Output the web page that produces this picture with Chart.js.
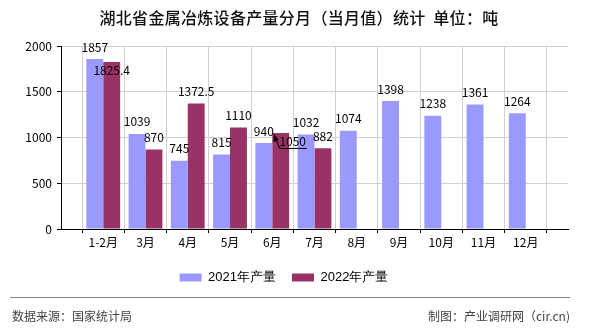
<!DOCTYPE html>
<html>
<head>
<meta charset="utf-8">
<script src="https://cdn.jsdelivr.net/npm/chart.js@4"></script>
<style>
  body { margin: 0; background: #fff; }
  #wrap { position: relative; width: 590px; height: 330px; font-family: "Noto Sans CJK SC", sans-serif; }
  #title { position: absolute; top: 6px; left: 4px; width: 590px; text-align: center; font-size: 16px; font-weight: 500; letter-spacing: 0.3px; color: #111; line-height: 22px; }
  #rule { position: absolute; left: 10px; top: 297px; width: 560px; border-top: 1px solid #888; }
  .foot { position: absolute; top: 307px; font-size: 12px; color: #444; line-height: 18px; }
</style>
</head>
<body>
<div id="wrap">
  <canvas id="graph" width="590" height="330"></canvas>
  <div id="title">湖北省金属冶炼设备产量分月（当月值）统计&nbsp;&nbsp;单位：吨</div>
  <div id="rule"></div>
  <div class="foot" style="left:12px">数据来源：国家统计局</div>
  <div class="foot" style="right:20px">制图：产业调研网（cir.cn)</div>
</div>
<script>
// data
const months = ['1-2月', '3月', '4月', '5月', '6月', '7月', '8月', '9月', '10月', '11月', '12月'];
const output2021 = [1857, 1039, 745, 815, 940, 1032, 1074, 1398, 1238, 1361, 1264];
const output2022 = [1825.4, 870, 1372.5, 1110, 1050, 882, null, null, null, null, null];
const yTicks = [0, 500, 1000, 1500, 2000];

// empty slot on each side of the months
const labels = [''].concat(months, ['']);
function pad(arr) { return [null].concat(arr, [null]); }

const numFont = '12px "Noto Sans CJK SC", sans-serif';

// value labels on top of the bars
const barLabels = {
  id: 'barLabels',
  afterDatasetsDraw(chart) {
    const ctx = chart.ctx;
    ctx.save();
    ctx.font = numFont;
    ctx.fillStyle = '#000';
    ctx.textAlign = 'center';
    ctx.textBaseline = 'middle';
    chart.data.datasets.forEach((ds, di) => {
      chart.getDatasetMeta(di).data.forEach((bar, i) => {
        const v = ds.data[i];
        if (v === null || v === undefined) return;
        const txt = String(v);
        if (di === 1 && i === 1) {
          // pushed down, overlaps blue label otherwise
          ctx.fillText(txt, bar.x, bar.y + 8);
        } else if (di === 1 && i === 5) {
          // moved label with leader line
          const tx = bar.x + 12, ty = bar.y + 9;
          ctx.fillText(txt, tx, ty);
          ctx.strokeStyle = '#000';
          ctx.lineWidth = 1;
          ctx.beginPath();
          ctx.moveTo(bar.x - 6, bar.y + 3);
          ctx.lineTo(bar.x - 1, bar.y + 15.5);
          ctx.lineTo(tx + 14, bar.y + 15.5);
          ctx.stroke();
          ctx.beginPath();
          ctx.moveTo(bar.x - 7, bar.y + 1);
          ctx.lineTo(bar.x - 7, bar.y + 9);
          ctx.lineTo(bar.x - 2, bar.y + 7);
          ctx.closePath();
          ctx.fillStyle = '#000';
          ctx.fill();
        } else {
          ctx.fillText(txt, bar.x, bar.y - 12);
        }
      });
    });
    ctx.restore();
  }
};

const chart = new Chart(document.getElementById('graph'), {
  type: 'bar',
  data: {
    labels: labels,
    datasets: [{
      label: '2021年产量',
      data: pad(output2021),
      backgroundColor: '#9999ff',
      categoryPercentage: 0.8,
      barPercentage: 1.0
    }, {
      label: '2022年产量',
      data: pad(output2022),
      backgroundColor: '#993366',
      categoryPercentage: 0.8,
      barPercentage: 1.0
    }]
  },
  options: {
    responsive: false,
    animation: false,
    layout: { padding: { left: 0, right: 22, top: 46, bottom: 36 } },
    plugins: {
      legend: {
        position: 'bottom',
        labels: {
          boxWidth: 22, boxHeight: 8, padding: 16,
          color: '#000',
          font: { family: 'Liberation Sans', size: 13 }
        }
      },
      tooltip: { enabled: false }
    },
    scales: {
      x: {
        offset: false,
        grid: { color: '#d0d0d0', tickColor: '#000', tickLength: 4 },
        border: { color: '#000' },
        ticks: { color: '#000', font: { family: 'Noto Sans CJK SC', size: 12 }, padding: 2, maxRotation: 0, autoSkip: false },
        afterFit(scale) { scale.height = 26; }
      },
      y: {
        min: 0, max: 2000,
        afterBuildTicks(scale) { scale.ticks = yTicks.map(v => ({ value: v })); },
        grid: { color: '#d0d0d0', tickColor: '#000', tickLength: 4 },
        border: { color: '#000' },
        ticks: { color: '#000', font: { family: 'Noto Sans CJK SC', size: 12 }, padding: 5, callback: v => String(v) },
        afterFit(scale) { scale.width = 61; }
      }
    }
  },
  plugins: [barLabels]
});
</script>
</body>
</html>
